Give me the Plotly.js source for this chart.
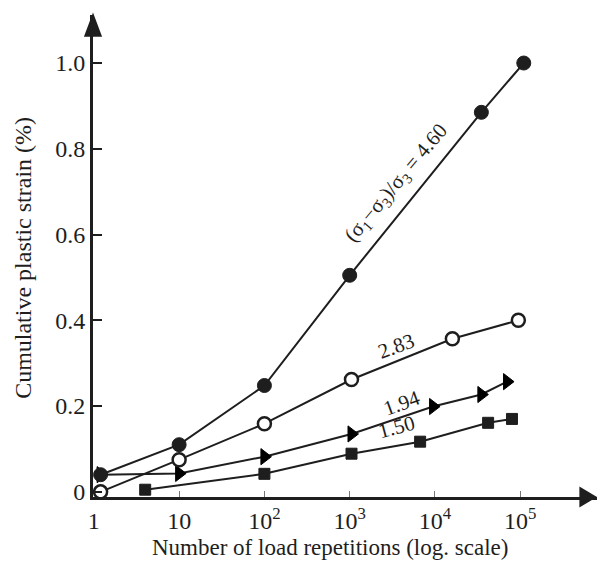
<!DOCTYPE html>
<html><head><meta charset="utf-8">
<script src="https://cdn.plot.ly/plotly-3.0.1.min.js"></script>
<style>html,body{margin:0;padding:0;background:#fff}#chart{width:600px;height:563px}</style>
</head><body><div id="chart"></div>
<script>
// Data
const x_460 = [1.2, 10, 100, 1000, 35000, 110000];
const y_460 = [0.04, 0.11, 0.248, 0.505, 0.885, 1.0];
const x_283 = [1.2, 10, 100, 1050, 16000, 95000];
const y_283 = [0.0, 0.075, 0.159, 0.262, 0.357, 0.40];
const x_194 = [1.2, 10, 100, 1050, 9500, 35000, 70000];
const y_194 = [0.04, 0.043, 0.082, 0.135, 0.199, 0.227, 0.257];
const x_150 = [4, 100, 1050, 6700, 42000, 80000];
const y_150 = [0.005, 0.042, 0.089, 0.117, 0.161, 0.17];
const xTickVals = [1, 10, 100, 1000, 10000, 100000];
const xTickText = ['1', '10', '10<sup>2</sup>', '10<sup>3</sup>', '10<sup>4</sup>', '10<sup>5</sup>'];
const yTickVals = [0, 0.2, 0.4, 0.6, 0.8, 1.0];
const yTickText = ['0', '0.2', '0.4', '0.6', '0.8', '1.0'];
const curveLabels = ['(σ<sub>1</sub>−σ<sub>3</sub>)/σ<sub>3</sub> = 4.60', '2.83', '1.94', '1.50'];
const labelX = [3550, 3550, 4100, 3550];
const labelY = [0.72, 0.339, 0.208, 0.152];
const xTitle = 'Number of load repetitions (log. scale)';
const yTitle = 'Cumulative plastic strain (%)';

const ink = '#1e1e1e';
const FONT = '"Liberation Serif", "Times New Roman", serif';
const line = {color: ink, width: 2};

const traces = [
  {x: x_150, y: y_150, mode: 'lines+markers', line: line,
   marker: {symbol: 'square', size: 11, color: ink, line: {color: ink, width: 1}}},
  {x: x_194, y: y_194, mode: 'lines+markers', line: line,
   marker: {symbol: 'triangle-right', size: 14, color: '#000000', opacity: 1, line: {color: '#000000', width: 1}}},
  {x: x_283, y: y_283, mode: 'lines+markers', line: line,
   marker: {symbol: 'circle', size: 13, color: '#ffffff', line: {color: ink, width: 2.5}}},
  {x: x_460, y: y_460, mode: 'lines+markers', line: line,
   marker: {symbol: 'circle', size: 14, color: ink, line: {color: ink, width: 1}}}
];

const annots = curveLabels.map((t, i) => ({
  x: Math.log10(labelX[i]), y: labelY[i], xref: 'x', yref: 'y', text: t, showarrow: false,
  textangle: [-50, -20, -20, -15][i], font: {family: FONT, size: 21, color: ink}
}));
annots.push({x: 0.47, y: -0.104, xref: 'paper', yref: 'paper', text: xTitle, showarrow: false,
  xanchor: 'center', yanchor: 'middle', font: {family: FONT, size: 23, color: ink}});
annots.push({x: -0.139, y: 0.496, xref: 'paper', yref: 'paper', text: yTitle, showarrow: false, textangle: -90,
  xanchor: 'center', yanchor: 'middle', font: {family: FONT, size: 24, color: ink}});

const layout = {
  width: 600, height: 563,
  margin: {l: 93, r: 3, t: 15, b: 66},
  paper_bgcolor: '#fff', plot_bgcolor: '#fff',
  showlegend: false,
  font: {family: FONT, color: ink, size: 22},
  xaxis: {
    type: 'log', range: [-0.01, 5.9], automargin: false,
    tickvals: xTickVals, ticktext: xTickText,
    ticks: 'inside', ticklen: 6, tickwidth: 1, tickcolor: '#777',
    showline: true, linecolor: ink, linewidth: 3,
    showgrid: false, zeroline: false,
    tickfont: {family: FONT, size: 24, color: ink}
  },
  yaxis: {
    range: [-0.012, 1.112], automargin: false,
    tickvals: yTickVals, ticktext: yTickText,
    ticks: 'inside', ticklen: 9, tickwidth: 2, tickcolor: ink,
    showline: true, linecolor: ink, linewidth: 3,
    showgrid: false, zeroline: false,
    tickfont: {family: FONT, size: 24, color: ink}
  },
  shapes: [
    {type: 'path', xref: 'paper', yref: 'paper', path: 'M -0.018 0.955 L 0 1.005 L 0.018 0.955 Z', fillcolor: ink, line: {width: 0}},
    {type: 'path', xref: 'paper', yref: 'paper', path: 'M 0.965 0.022 L 1.0 0 L 0.965 -0.022 Z', fillcolor: ink, line: {width: 0}}
  ],
  annotations: annots
};

Plotly.newPlot('chart', traces, layout, {staticPlot: true, displayModeBar: false});
</script></body></html>
